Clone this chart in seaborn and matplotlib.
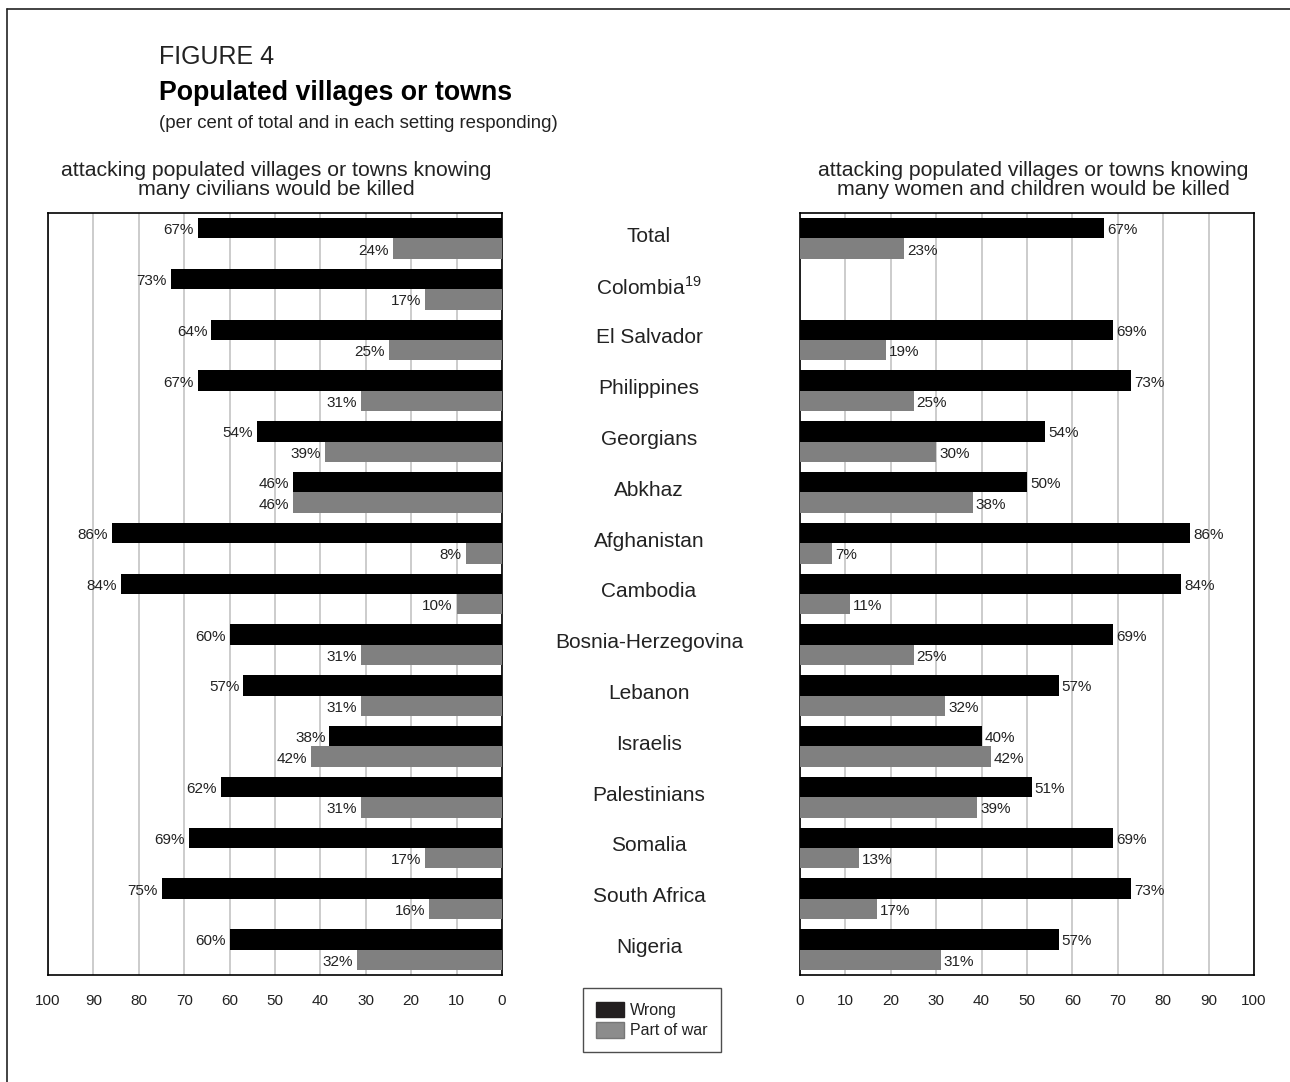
import numpy as np
import pandas as pd
import matplotlib
matplotlib.use("Agg")
import matplotlib.pyplot as plt
from matplotlib.patches import Patch
from matplotlib.lines import Line2D
import matplotlib.transforms as mtransforms
import seaborn as sns

categories = ["Total", "Colombia", "El Salvador", "Philippines", "Georgians", "Abkhaz",
              "Afghanistan", "Cambodia", "Bosnia-Herzegovina", "Lebanon", "Israelis",
              "Palestinians", "Somalia", "South Africa", "Nigeria"]
left_wrong = [67, 73, 64, 67, 54, 46, 86, 84, 60, 57, 38, 62, 69, 75, 60]
left_part = [24, 17, 25, 31, 39, 46, 8, 10, 31, 31, 42, 31, 17, 16, 32]
right_wrong = [67, np.nan, 69, 73, 54, 50, 86, 84, 69, 57, 40, 51, 69, 73, 57]
right_part = [23, np.nan, 19, 25, 30, 38, 7, 11, 25, 32, 42, 39, 13, 17, 31]
series_names = ["Wrong", "Part of war"]
ticks = [0, 10, 20, 30, 40, 50, 60, 70, 80, 90, 100]

sns.set_theme(style="white")
plt.rcParams["font.family"] = ["Liberation Sans", "DejaVu Sans"]
plt.rcParams["mathtext.fontset"] = "custom"
plt.rcParams["mathtext.rm"] = "Liberation Sans"

BLACK = "#000000"
GRAY = "#808080"
palette = {"Wrong": BLACK, "Part of war": GRAY}
TXT = "#222222"

W, H = 1290, 1082
fig = plt.figure(figsize=(W / 100, H / 100), dpi=100)


def fx(px):
    return px / W


def fy(py):
    return 1 - py / H


def make_df(wrong, part):
    rows = []
    for c, w, p in zip(categories, wrong, part):
        rows.append({"Setting": c, "Response": "Wrong", "Value": w})
        rows.append({"Setting": c, "Response": "Part of war", "Value": p})
    return pd.DataFrame(rows)


ax_top, ax_bot = 213, 975
axL = fig.add_axes([fx(48), fy(ax_bot), fx(502) - fx(48), fy(ax_top) - fy(ax_bot)])
axR = fig.add_axes([fx(800), fy(ax_bot), fx(1254) - fx(800), fy(ax_top) - fy(ax_bot)])

for ax, wrong, part, side in [(axL, left_wrong, left_part, "L"), (axR, right_wrong, right_part, "R")]:
    df = make_df(wrong, part)
    sns.barplot(data=df, y="Setting", x="Value", hue="Response", order=categories,
                hue_order=series_names, palette=palette, orient="h", ax=ax,
                width=0.8, saturation=1, legend=False, zorder=3, linewidth=0)
    ax.set_ylim(len(categories) - 0.5, -0.5)
    if side == "L":
        ax.set_xlim(100, 0)
    else:
        ax.set_xlim(0, 100)
    ax.set_xticks(ticks)
    ax.set_xticklabels([str(t) for t in ticks])
    ax.set_yticks([])
    ax.set_xlabel("")
    ax.set_ylabel("")
    ax.tick_params(axis="x", length=0, pad=14, labelsize=11, labelcolor=TXT)
    ax.grid(axis="x", color="#c4c4c4", linewidth=1.2, zorder=0)
    ax.set_axisbelow(True)
    for s in ax.spines.values():
        s.set_visible(True)
        s.set_color("black")
        s.set_linewidth(1.2)
    # value labels
    for i, (w, p) in enumerate(zip(wrong, part)):
        for v, off in [(w, -0.2), (p, 0.2)]:
            if np.isnan(v):
                continue
            if side == "L":
                ax.annotate(f"{int(v)}%", xy=(v, i + off), xytext=(-4, -2),
                            textcoords="offset pixels", ha="right", va="center",
                            fontsize=11, color=TXT)
            else:
                ax.annotate(f"{int(v)}%", xy=(v, i + off), xytext=(3, -2),
                            textcoords="offset pixels", ha="left", va="center",
                            fontsize=11, color=TXT)

# category labels in the middle
trans = mtransforms.blended_transform_factory(fig.transFigure, axL.transData)
for i, c in enumerate(categories):
    label = c
    if c == "Colombia":
        label = "Colombia$^{\\mathregular{19}}$"
    fig.text(fx(649), i - 0.04, label, transform=trans, ha="center", va="center",
             fontsize=15, color=TXT)

# panel titles
fig.text(fx(276), fy(180), "attacking populated villages or towns knowing\nmany civilians would be killed",
         ha="center", va="center", fontsize=15.3, color=TXT, linespacing=1.0)
fig.text(fx(1033), fy(180), "attacking populated villages or towns knowing\nmany women and children would be killed",
         ha="center", va="center", fontsize=15.3, color=TXT, linespacing=1.0)

# header
fig.text(fx(159), fy(57), "FIGURE 4", ha="left", va="center", fontsize=18, color=TXT)
fig.text(fx(159), fy(93), "Populated villages or towns", ha="left", va="center",
         fontsize=19.3, fontweight="bold", color="black")
fig.text(fx(159), fy(123), "(per cent of total and in each setting responding)", ha="left",
         va="center", fontsize=13.4, color=TXT)

# legend
handles = [Patch(facecolor="#231f20", edgecolor="#231f20", label="Wrong"),
           Patch(facecolor="#8c8c8c", edgecolor="#777777", label="Part of war")]
leg = fig.legend(handles=handles, loc="center", bbox_to_anchor=(fx(652), fy(1020)),
                 fontsize=11.5, frameon=True, fancybox=False, edgecolor="#222222",
                 handlelength=1.7, handleheight=1.1, handletextpad=0.4,
                 labelspacing=0.3, borderpad=0.85, borderaxespad=0)
leg.get_frame().set_linewidth(1.0)
for t in leg.get_texts():
    t.set_color(TXT)

# outer frame lines
fig.add_artist(Line2D([fx(7), fx(1290)], [fy(9), fy(9)], color="#222222", linewidth=1.2,
                      transform=fig.transFigure))
fig.add_artist(Line2D([fx(7), fx(7)], [fy(9), fy(1082)], color="#222222", linewidth=1.2,
                      transform=fig.transFigure))

fig.savefig("out.png", dpi=100)
